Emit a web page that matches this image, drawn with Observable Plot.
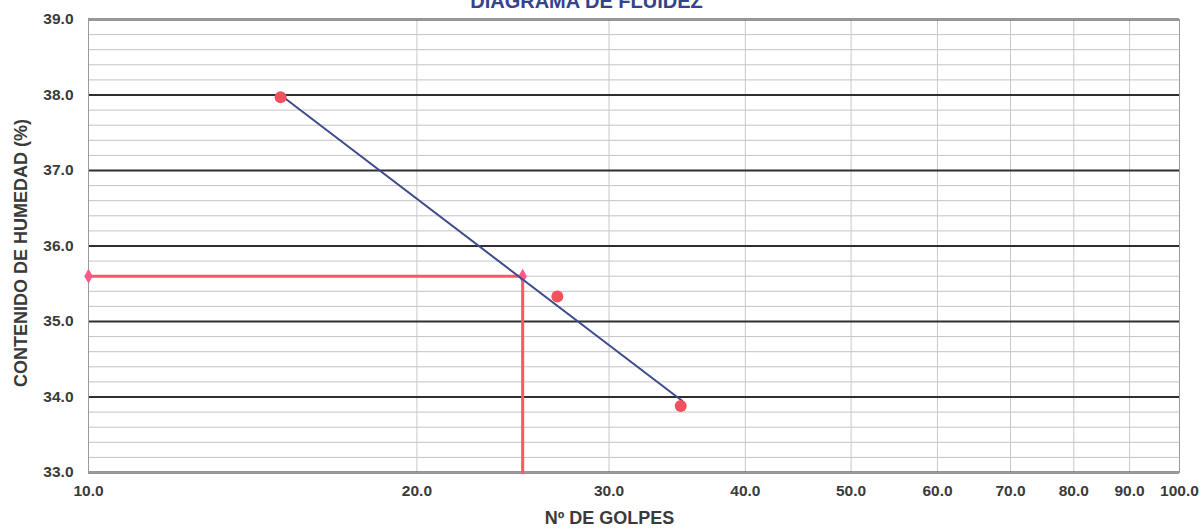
<!DOCTYPE html>
<html>
<head>
<meta charset="utf-8">
<script src="https://cdn.jsdelivr.net/npm/d3@7"></script>
<script src="https://cdn.jsdelivr.net/npm/@observablehq/plot@0.6"></script>
<style>
  html, body { margin: 0; padding: 0; background: #fff; }
  #chart { width: 1204px; height: 530px; overflow: hidden; }
</style>
</head>
<body>
<div id="chart"></div>
<script>
// Data
const golpes = [15.0, 26.9, 34.9];
const humedad = [37.97, 35.33, 33.88];
const trendGolpes = [15.0, 35.0];
const trendHumedad = [38.0, 33.95];
const llGolpes = [10, 25, 25];
const llHumedad = [35.6, 35.6, 33.0];
const xTicks = [10, 20, 30, 40, 50, 60, 70, 80, 90, 100];
const yTicks = [33, 34, 35, 36, 37, 38, 39];
const yMinor = [33.2, 33.4, 33.6, 33.8, 34.2, 34.4, 34.6, 34.8, 35.2, 35.4, 35.6, 35.8,
                36.2, 36.4, 36.6, 36.8, 37.2, 37.4, 37.6, 37.8, 38.2, 38.4, 38.6, 38.8];
const title = "DIAGRAMA DE FLUIDEZ";
const xLabel = "Nº DE GOLPES";
const yLabel = "CONTENIDO DE HUMEDAD (%)";

const points = golpes.map((g, i) => ({g, h: humedad[i]}));
const trend = trendGolpes.map((g, i) => ({g, h: trendHumedad[i]}));
const ll = llGolpes.map((g, i) => ({g, h: llHumedad[i]}));

const font = "'Liberation Sans', Arial, sans-serif";

const chart = Plot.plot({
  width: 1204,
  height: 530,
  marginLeft: 88,
  marginRight: 25,
  marginTop: 19,
  marginBottom: 58,
  style: {fontFamily: font, fontSize: "15px", fontWeight: "bold", color: "#3a3a3a", background: "#fff", overflow: "visible"},
  x: {type: "log", domain: [10, 100], ticks: xTicks, tickFormat: d => d.toFixed(1), label: null},
  y: {domain: [33, 39], ticks: yTicks, tickFormat: d => d.toFixed(1), label: null},
  marks: [
    Plot.ruleY(yMinor, {stroke: "#c4c4c4", strokeWidth: 1}),
    Plot.ruleX(xTicks, {stroke: "#c8c8c8", strokeWidth: 1}),
    Plot.ruleY(yTicks, {stroke: "#2f2f2f", strokeWidth: 2}),
    Plot.frame({stroke: "#9a9a9a", strokeWidth: 1}),
    Plot.axisX({ticks: xTicks, tickFormat: d => d.toFixed(1), tickSize: 0, tickPadding: 12, fontSize: 15.5, fontWeight: "bold", fill: "#3a3a3a", label: null}),
    Plot.axisY({ticks: yTicks, tickFormat: d => d.toFixed(1), tickSize: 0, tickPadding: 15, fontSize: 15.5, fontWeight: "bold", fill: "#3a3a3a", label: null}),
    Plot.line(ll, {x: "g", y: "h", stroke: "#ff5566", strokeWidth: 3}),
    Plot.dot(ll.slice(0, 2), {x: "g", y: "h", symbol: "diamond", r: 4.5, fill: "#ff5a8a", stroke: "none"}),
    Plot.line(trend, {x: "g", y: "h", stroke: "#3f4b8c", strokeWidth: 2}),
    Plot.dot(points, {x: "g", y: "h", r: 6, fill: "#f2525e", stroke: "none"}),
    Plot.text([title], {frameAnchor: "top", lineAnchor: "middle", dy: -18.4, dx: -47.5, fontSize: 20, fontWeight: "bold", fill: "#34448a"}),
    Plot.text([xLabel], {frameAnchor: "bottom", lineAnchor: "middle", dy: 46, dx: -24.5, fontSize: 18, fontWeight: "bold", fill: "#3a3a3a"}),
    Plot.text([yLabel], {frameAnchor: "left", textAnchor: "middle", lineAnchor: "middle", dx: -67.5, dy: 7, rotate: -90, fontSize: 18, fontWeight: "bold", fill: "#3a3a3a"})
  ]
});
document.getElementById("chart").appendChild(chart);
</script>
</body>
</html>
